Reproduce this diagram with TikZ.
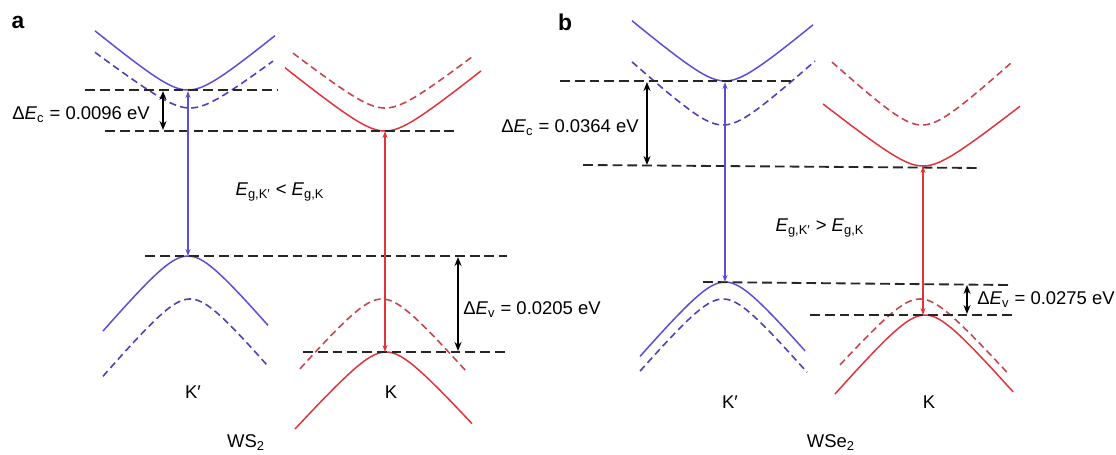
\documentclass[tikz,border=0pt]{standalone}
\usepackage{fontspec}
\setmainfont{Liberation Sans}
\usepackage{tikz}
\usetikzlibrary{arrows.meta}
\definecolor{bandblue}{HTML}{5A4ED8}
\definecolor{bandblued}{HTML}{4A42B8}
\definecolor{bandred}{HTML}{E0343C}
\definecolor{bandredd}{HTML}{C8434E}
% one band: xl, xr, x0, y0, curvature (negative = valley, positive = hill)
\newcommand{\bandline}[6][]{%
  \draw[#1] plot[domain=#2:#3, samples=70, smooth] (\x, {#5+(#6)*(sqrt(625+(\x-#4)^2)-25)});}

\begin{document}
\begin{tikzpicture}[
  x=0.02cm, y=-0.02cm,
  sol/.style={line width=0.85pt},
  dsh/.style={line width=0.9pt, dash pattern=on 4pt off 2.4pt},
  level/.style={black!85, line width=1.05pt, dash pattern=on 5.6pt off 2.8pt},
  gap/.style={<->, black, line width=1.1pt, >={Stealth[length=1.8mm,width=1.4mm]}},
  trans/.style={<->, line width=0.6pt, >={Stealth[length=1.4mm,width=1mm]}},
  lbl/.style={font=\fontsize{10.5}{12}\selectfont, inner sep=0pt},
  panel/.style={font=\fontsize{13}{15}\selectfont\bfseries, inner sep=0pt}
]
\useasboundingbox (0,0) rectangle (1116,455);

%%% panel a : WS2
\node[panel] (pa) at (18,22) {a};
\bandline[sol, bandblue]{95}{275}{188}{90}{-0.83}
\bandline[dsh, bandblued]{95}{273}{190}{108}{-0.76}
\bandline[sol, bandred]{285}{481}{385}{131}{-0.81}
\bandline[dsh, bandredd]{293}{472}{385}{108}{-0.78}
\bandline[sol, bandblue]{103}{268}{188}{256}{1.18}
\bandline[dsh, bandblued]{103}{268}{190}{299}{1.18}
\bandline[dsh, bandredd]{300}{467}{382}{299}{1.15}
\bandline[sol, bandred]{295}{472}{386}{352}{1.11}

\coordinate (aKpc) at (188,91);
\coordinate (aKpv) at (188,256);
\coordinate (aKc) at (385,131);
\coordinate (aKv) at (385,352);
\coordinate (aL1w) at (85,90);   \coordinate (aL1e) at (277,90);
\coordinate (aL2w) at (105,131); \coordinate (aL2e) at (455,131);
\coordinate (aL3w) at (145,256); \coordinate (aL3e) at (507,256);
\coordinate (aL4w) at (303,352); \coordinate (aL4e) at (505,352);
\coordinate (aEcT) at (163,91);  \coordinate (aEcB) at (163,130);
\coordinate (aEvT) at (458,257); \coordinate (aEvB) at (458,351);

\draw[level] (aL1w) -- (aL1e);
\draw[level] (aL2w) -- (aL2e);
\draw[level] (aL3w) -- (aL3e);
\draw[level] (aL4w) -- (aL4e);
\draw[trans, bandblue] (aKpc) -- (aKpv);
\draw[trans, bandred] (aKc) -- (aKv);
\draw[gap] (aEcT) -- (aEcB);
\draw[gap] (aEvT) -- (aEvB);

\node[lbl] (aDEc) at (81,115) {Δ\textit{E}\textsubscript{c} = 0.0096 eV};
\node[lbl] (aEg) at (280,192) {\textit{E}\textsubscript{g,K′} < \textit{E}\textsubscript{g,K}};
\node[lbl, anchor=west] (aDEv) at (463,310) {Δ\textit{E}\textsubscript{v} = 0.0205 eV};
\node[lbl] (aKp) at (193,392) {K′};
\node[lbl] (aK) at (391,392) {K};
\node[lbl] (aWS) at (246,443) {WS\textsubscript{2}};

%%% panel b : WSe2
\node[panel] (pb) at (565,22) {b};
\bandline[sol, bandblue]{632}{813}{725}{81}{-0.845}
\bandline[dsh, bandblued]{632}{815}{723}{125}{-0.91}
\bandline[sol, bandred]{823}{1020}{923}{166}{-0.795}
\bandline[dsh, bandredd]{832}{1013}{922}{125}{-0.92}
\bandline[sol, bandblue]{640}{805}{725}{282}{1.17}
\bandline[dsh, bandblued]{640}{807}{723}{299}{1.17}
\bandline[sol, bandred]{835}{1013}{925}{315}{1.155}
\bandline[dsh, bandredd]{840}{1008}{920}{299}{1.12}

\coordinate (bKpc) at (725,82);
\coordinate (bKpv) at (725,282);
\coordinate (bKc) at (923,166);
\coordinate (bKv) at (923,315);
\coordinate (bL1w) at (560,81);  \coordinate (bL1e) at (795,81);
\coordinate (bL2w) at (583,165); \coordinate (bL2e) at (980,168);
\coordinate (bL3w) at (703,282); \coordinate (bL3e) at (1008,285);
\coordinate (bL4w) at (810,315); \coordinate (bL4e) at (1013,315);
\coordinate (bEcT) at (647,82);  \coordinate (bEcB) at (647,165);
\coordinate (bEvT) at (967,285); \coordinate (bEvB) at (967,314);

\draw[level] (bL1w) -- (bL1e);
\draw[level] (bL2w) -- (bL2e);
\draw[level] (bL3w) -- (bL3e);
\draw[level] (bL4w) -- (bL4e);
\draw[trans, bandblue] (bKpc) -- (bKpv);
\draw[trans, bandred] (bKc) -- (bKv);
\draw[gap] (bEcT) -- (bEcB);
\draw[gap] (bEvT) -- (bEvB);

\node[lbl, anchor=east] (bDEc) at (639,128) {Δ\textit{E}\textsubscript{c} = 0.0364 eV};
\node[lbl] (bEg) at (820,228) {\textit{E}\textsubscript{g,K′} > \textit{E}\textsubscript{g,K}};
\node[lbl, anchor=west] (bDEv) at (977,300) {Δ\textit{E}\textsubscript{v} = 0.0275 eV};
\node[lbl] (bKp) at (730,402) {K′};
\node[lbl] (bK) at (929,402) {K};
\node[lbl] (bWSe) at (831,443) {WSe\textsubscript{2}};
\end{tikzpicture}
\end{document}
